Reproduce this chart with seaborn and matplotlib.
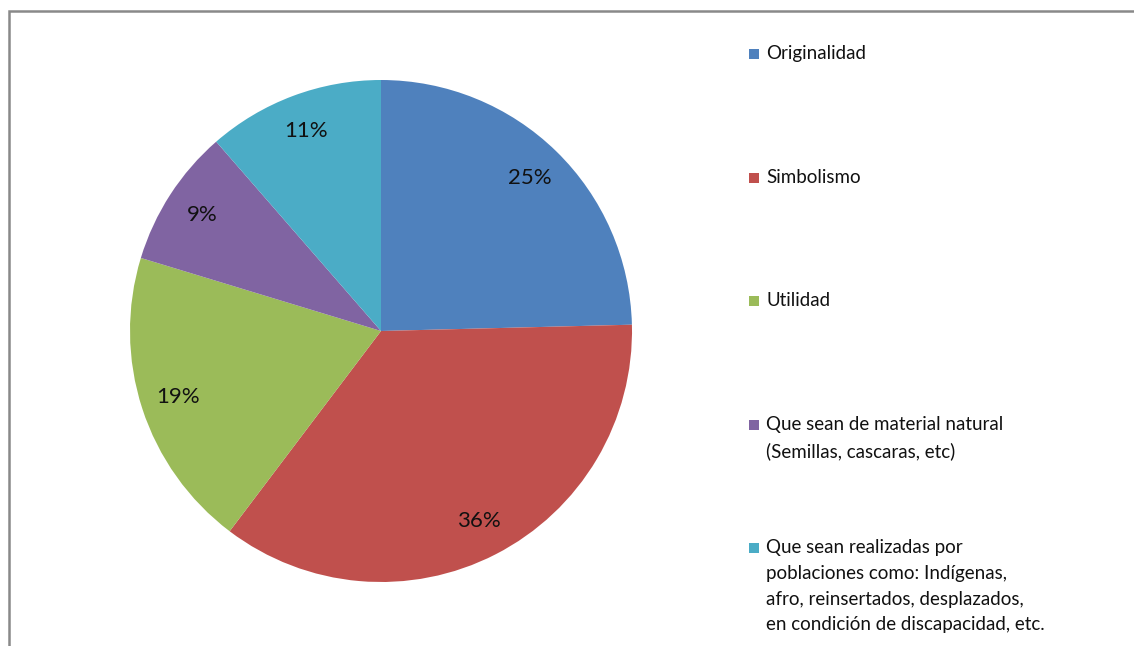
import matplotlib
matplotlib.use("Agg")
import matplotlib.pyplot as plt
import matplotlib.patches as mpatches
import seaborn as sns

# --- Datos ---
categorias = [
    "Originalidad",
    "Simbolismo",
    "Utilidad",
    "Que sean de material natural\n(Semillas, cascaras, etc)",
    "Que sean realizadas por\npoblaciones como: Indígenas,\nafro, reinsertados, desplazados,\nen condición de discapacidad, etc.",
]
porcentajes = [24.6, 35.7, 19.4, 8.9, 11.4]
colores = ["#4F81BD", "#C0504D", "#9BBB59", "#8064A2", "#4BACC6"]

sns.set_theme(style="white")
plt.rcParams["font.family"] = ["Lato", "DejaVu Sans"]

W, H = 1134, 646
fig = plt.figure(figsize=(W / 100, H / 100), dpi=100)

# marco gris del gráfico (sale por la derecha y por abajo)
marco = mpatches.Rectangle((9 / W, -0.05), 1.2, 1 - 11 / H + 0.05,
                           transform=fig.transFigure, fill=False,
                           edgecolor="#898989", linewidth=1.8)
fig.patches.append(marco)

# --- Pastel ---
cx, cy, r = 381, 331, 251
ax = fig.add_axes([(cx - r) / W, (H - cy - r) / H, 2 * r / W, 2 * r / H])
ax.pie(porcentajes, colors=colores, startangle=90, counterclock=False,
       autopct="%1.0f%%", pctdistance=0.85,
       textprops={"fontsize": 16, "color": "#111111"},
       wedgeprops={"linewidth": 0})
ax.set_xlim(-1, 1)
ax.set_ylim(-1, 1)
ax.set_aspect("equal")
ax.axis("off")

# --- Leyenda manual ---
y0, paso = 54, 123.5
for i, (cat, col) in enumerate(zip(categorias, colores)):
    y = y0 + i * paso
    fig.patches.append(mpatches.Rectangle((749 / W, (H - y - 5) / H), 10 / W, 10 / H,
                                          transform=fig.transFigure,
                                          facecolor=col, edgecolor="none"))
    fig.text(766 / W, (H - y) / H + 0.0135, cat, fontsize=13.5, color="#111111",
             va="top", ha="left", linespacing=1.62)

fig.savefig("out.png", dpi=100, facecolor="white")
